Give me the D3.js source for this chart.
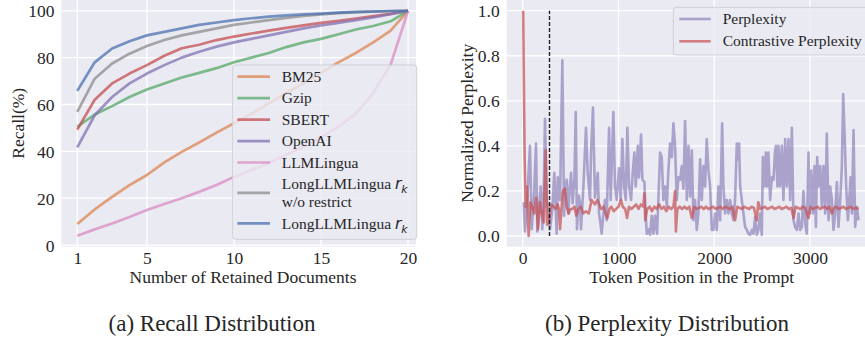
<!DOCTYPE html>
<html>
<head>
<meta charset="utf-8">
<script src="https://cdn.jsdelivr.net/npm/d3@7"></script>
<style>
  body { margin: 0; background: #fff; }
  svg { display: block; }
  text { font-family: "Liberation Serif", "Times New Roman", serif; fill: #262626; }
</style>
</head>
<body>
<script>
// ---- data: (a) recall distribution ----
const docs = [1, 2, 3, 4, 5, 6, 7, 8, 9, 10, 11, 12, 13, 14, 15, 16, 17, 18, 19, 20];
const docTicks = [1, 5, 10, 15, 20];
const recallTicks = [0, 20, 40, 60, 80, 100];

const bm25 = [9, 15.2, 20.6, 25.6, 29.9, 35.3, 39.8, 43.8, 48, 52, 56, 60.5, 65, 69, 73.5, 78, 82, 86.5, 91.5, 100];
const gzip = [50.5, 55.7, 59.3, 63.2, 66.4, 69, 71.5, 73.5, 75.5, 78, 80, 82, 84.5, 86.5, 88, 90, 92, 93.5, 95.5, 100];
const sbert = [49.3, 62, 69, 73.2, 76.8, 80.8, 84, 85.5, 87.5, 89, 90.3, 91.5, 92.7, 93.8, 94.8, 95.7, 96.7, 97.7, 98.7, 100];
const openai = [41.7, 55.4, 63.2, 69, 73.2, 76.8, 80, 82.5, 84.7, 86.5, 88, 89.5, 91, 92.5, 93.7, 94.8, 96, 97.2, 98.5, 100];
const llmlingua = [4, 6.7, 9.2, 12, 15, 17.5, 20, 22.7, 25.6, 29.1, 32, 35, 38.5, 42, 46, 50.5, 56, 65, 77, 100];
const longNoRestrict = [56.8, 71, 77.5, 81.7, 85, 87.5, 89.5, 91, 92.5, 94, 95, 96, 97, 97.8, 98.5, 99, 99.3, 99.6, 99.8, 100];
const longRk = [65.8, 78, 83.9, 87, 89.5, 91, 92.5, 94, 95, 96, 96.8, 97.5, 98, 98.5, 98.8, 99.2, 99.5, 99.7, 99.9, 100];

// ---- data: (b) perplexity distribution, [token position, value] ----
const tokenTicks = [0, 1000, 2000, 3000];
const pplTicks = [0, 0.2, 0.4, 0.6, 0.8, 1.0];
const questionEnd = 280;

const perplexity = [
  [10,0.15],[24,0.02],[50,0.18],[76,0.40],[94,0.03],[115,0.15],[139,0.41],[153,0.02],[170,0.12],[188,0.22],
  [205,0.03],[220,0.2],[233,0.52],[251,0.16],[268,0.12],[285,0.03],[310,0.12],[330,0.28],[355,0.01],[366,0.26],
  [390,0.16],[414,0.78],[432,0.09],[445,0.2],[460,0.25],[477,0.10],[490,0.2],[505,0.28],[522,0.145],[540,0.25],
  [554,0.55],[567,0.03],[585,0.18],[599,0.145],[609,0.03],[634,0.22],[661,0.48],[679,0.28],[703,0.16],[714,0.37],
  [734,0.57],[755,0.17],[784,0.28],[797,0.10],[808,0.07],[825,0.01],[843,0.10],[860,0.16],[877,0.07],[902,0.48],
  [919,0.16],[947,0.55],[964,0.22],[982,0.16],[1006,0.30],[1024,0.16],[1041,0.43],[1059,0.22],[1076,0.16],[1093,0.48],
  [1111,0.22],[1132,0.16],[1149,0.28],[1166,0.37],[1181,0.22],[1202,0.40],[1215,0.26],[1236,0.45],[1250,0.25],[1271,0.24],
  [1285,0.09],[1296,0.01],[1312,0.03],[1330,0.005],[1348,0.09],[1365,0.01],[1382,0.09],[1403,0.01],[1417,0.16],[1435,0.37],
  [1452,0.35],[1469,0.16],[1487,0.22],[1505,0.13],[1521,0.29],[1539,0.41],[1557,0.35],[1574,0.50],[1591,0.40],[1609,0.16],
  [1626,0.26],[1644,0.25],[1661,0.31],[1678,0.21],[1696,0.51],[1714,0.16],[1731,0.40],[1748,0.175],[1766,0.38],[1783,0.07],
  [1800,0.16],[1818,0.027],[1835,0.10],[1853,0.34],[1870,0.16],[1888,0.31],[1905,0.22],[1922,0.43],[1940,0.29],[1957,0.22],
  [1975,0.027],[1992,0.027],[2009,0.10],[2027,0.027],[2044,0.22],[2062,0.07],[2083,0.50],[2096,0.22],[2114,0.10],[2131,0.16],
  [2149,0.10],[2166,0.16],[2184,0.10],[2201,0.07],[2218,0.16],[2236,0.41],[2247,0.34],[2260,0.41],[2271,0.22],[2288,0.16],
  [2305,0.10],[2323,0.04],[2341,0.027],[2357,0.01],[2375,0.005],[2393,0.027],[2410,0.01],[2427,0.085],[2445,0.005],[2462,0.027],
  [2480,0.10],[2497,0.005],[2508,0.35],[2525,0.22],[2539,0.37],[2553,0.22],[2566,0.37],[2584,0.16],[2602,0.26],[2619,0.25],
  [2636,0.38],[2645,0.40],[2660,0.22],[2671,0.40],[2689,0.22],[2706,0.40],[2723,0.16],[2741,0.43],[2758,0.22],[2776,0.43],
  [2793,0.16],[2811,0.48],[2828,0.07],[2845,0.04],[2863,0.027],[2880,0.10],[2898,0.027],[2915,0.04],[2932,0.20],[2950,0.055],
  [2967,0.01],[2985,0.37],[2995,0.10],[3013,0.29],[3030,0.10],[3047,0.31],[3062,0.04],[3075,0.35],[3089,0.22],[3107,0.31],
  [3124,0.13],[3141,0.31],[3159,0.10],[3176,0.455],[3194,0.07],[3211,0.22],[3229,0.16],[3246,0.027],[3263,0.10],[3281,0.24],
  [3298,0.04],[3316,0.16],[3333,0.31],[3347,0.63],[3361,0.455],[3378,0.22],[3396,0.07],[3410,0.16],[3424,0.26],[3438,0.10],
  [3455,0.47],[3472,0.04],[3490,0.13],[3507,0.07]
];

const contrastive = [
  [5,1.0],[20,0.36],[30,0.13],[45,0.22],[62,0.0],[80,0.15],[100,0.13],[120,0.10],[140,0.17],[160,0.03],
  [180,0.15],[200,0.10],[220,0.06],[240,0.38],[255,0.05],[275,0.06],[295,0.14],[320,0.13],[345,0.12],[365,0.14],
  [378,0.12],[390,0.03],[405,0.12],[420,0.20],[440,0.21],[460,0.13],[480,0.10],[500,0.12],[520,0.12],[540,0.13],
  [560,0.09],[580,0.12],[610,0.13],[630,0.10],[660,0.11],[690,0.10],[720,0.16],[755,0.14],[780,0.16],[800,0.14],
  [820,0.12],[845,0.13],[865,0.10],[885,0.08],[905,0.12],[925,0.13],[950,0.11],[975,0.12],[1000,0.13],[1025,0.16],
  [1045,0.13],[1070,0.12],[1090,0.08],[1110,0.13],[1135,0.12],[1160,0.13],[1185,0.14],[1210,0.12],[1235,0.14],[1260,0.13],
  [1271,0.19],[1280,0.07],[1300,0.12],[1325,0.13],[1350,0.11],[1375,0.13],[1400,0.12],[1425,0.14],[1450,0.12],[1475,0.13],
  [1500,0.11],[1525,0.13],[1550,0.12],[1575,0.13],[1591,0.20],[1600,0.02],[1615,0.12],[1640,0.13],[1665,0.12],[1690,0.13],
  [1715,0.12],[1740,0.13],[1766,0.08],[1790,0.13],[1815,0.12],[1840,0.125],[1865,0.13],[1890,0.12],[1915,0.13],[1940,0.12],
  [1965,0.125],[1990,0.13],[2015,0.12],[2040,0.125],[2065,0.13],[2090,0.12],[2115,0.13],[2140,0.125],[2165,0.12],[2190,0.13],
  [2218,0.07],[2240,0.13],[2265,0.125],[2290,0.12],[2315,0.13],[2340,0.125],[2365,0.12],[2390,0.13],[2415,0.125],[2445,0.07],
  [2460,0.15],[2480,0.12],[2505,0.125],[2530,0.13],[2555,0.12],[2580,0.125],[2605,0.13],[2630,0.12],[2655,0.125],[2680,0.13],
  [2705,0.12],[2730,0.125],[2755,0.13],[2780,0.12],[2805,0.125],[2828,0.08],[2850,0.13],[2875,0.125],[2900,0.12],[2925,0.13],
  [2950,0.125],[2985,0.08],[3005,0.13],[3030,0.12],[3055,0.125],[3080,0.13],[3105,0.12],[3130,0.125],[3155,0.13],[3180,0.12],
  [3205,0.13],[3229,0.10],[3250,0.125],[3275,0.13],[3300,0.12],[3325,0.125],[3350,0.13],[3375,0.12],[3400,0.125],[3425,0.13],
  [3450,0.12],[3475,0.125],[3507,0.12]
];

const width = 865;
const height = 339;
const bg = "#eaeaf2";
const tickFont = 17.5;
const legendFont = 15.5;

const svg = d3.select("body")
  .append("svg")
  .attr("xmlns", "http://www.w3.org/2000/svg")
  .attr("width", width)
  .attr("height", height);

svg.append("rect").attr("width", width).attr("height", height).attr("fill", "white");

const defs = svg.append("defs");

// helper: grid + tick labels for one panel
function drawFrame(g, x, y, xTicks, yTicks, xFmt, yFmt, clipX0, clipX1) {
  const [y1, y0] = y.range();
  g.append("rect")
    .attr("x", clipX0).attr("y", y0)
    .attr("width", clipX1 - clipX0).attr("height", y1 - y0)
    .attr("fill", bg);

  g.selectAll("line.gx").data(xTicks).join("line")
    .attr("class", "gx")
    .attr("x1", d => x(d)).attr("x2", d => x(d))
    .attr("y1", y0).attr("y2", y1)
    .attr("stroke", "white").attr("stroke-width", 1.3);
  g.selectAll("line.gy").data(yTicks).join("line")
    .attr("class", "gy")
    .attr("x1", clipX0).attr("x2", clipX1)
    .attr("y1", d => y(d)).attr("y2", d => y(d))
    .attr("stroke", "white").attr("stroke-width", 1.3);

  // axes through d3, then strip the domain / ticks to get the seaborn look
  const xa = g.append("g")
    .attr("transform", "translate(0," + y1 + ")")
    .call(d3.axisBottom(x).tickValues(xTicks).tickFormat(xFmt).tickSize(0));
  xa.select(".domain").remove();
  xa.selectAll("text")
    .attr("y", 264 - y1).attr("dy", null)
    .attr("font-size", tickFont)
    .attr("font-family", "Liberation Serif")
    .attr("fill", "#262626");

  const ya = g.append("g")
    .attr("transform", "translate(" + clipX0 + ",0)")
    .call(d3.axisLeft(y).tickValues(yTicks).tickFormat(yFmt).tickSize(0).tickPadding(7));
  ya.select(".domain").remove();
  ya.selectAll("text")
    .attr("dy", "0.34em")
    .attr("font-size", tickFont)
    .attr("font-family", "Liberation Serif")
    .attr("fill", "#262626");
}

function rkLabel(t, prefix) {
  t.append("tspan").text(prefix);
  t.append("tspan").attr("font-family", "DejaVu Sans").attr("font-style", "italic").text("r");
  t.append("tspan").attr("font-family", "DejaVu Sans").attr("font-style", "italic")
    .attr("font-size", legendFont * 0.7).attr("dy", 4).text("k");
}

// ================= (a) Recall Distribution =================
const xA = d3.scaleLinear().domain([0.05, 20.95]).range([60.74, 424.6]);
const yA = d3.scaleLinear().domain([-0.7, 104.6]).range([246.7, 0]);
const leftClip = [61.5, 416];

defs.append("clipPath").attr("id", "clipA")
  .append("rect").attr("x", leftClip[0]).attr("y", 0)
  .attr("width", leftClip[1] - leftClip[0]).attr("height", 246.7);

const gA = svg.append("g");
drawFrame(gA, xA, yA, docTicks, recallTicks, d3.format("d"), d3.format("d"), leftClip[0], leftClip[1]);

const seriesA = [
  { name: "BM25", values: bm25, color: "#dd8452" },
  { name: "Gzip", values: gzip, color: "#55a868" },
  { name: "SBERT", values: sbert, color: "#c44e52" },
  { name: "OpenAI", values: openai, color: "#8172b3" },
  { name: "LLMLingua", values: llmlingua, color: "#da8bc3" },
  { name: "LongLLMLingua ", rk: true, extra: "w/o restrict", values: longNoRestrict, color: "#8c8c8c" },
  { name: "LongLLMLingua ", rk: true, values: longRk, color: "#4c72b0" }
];

const lineA = d3.line().x((d, i) => xA(docs[i])).y(d => yA(d));
gA.append("g").attr("clip-path", "url(#clipA)")
  .selectAll("path").data(seriesA).join("path")
  .attr("fill", "none")
  .attr("stroke", d => d.color)
  .attr("stroke-opacity", 0.75)
  .attr("stroke-width", 2.7)
  .attr("stroke-linejoin", "round")
  .attr("d", d => lineA(d.values));

// legend (a)
const legA = gA.append("g");
legA.append("rect")
  .attr("x", 232.7).attr("y", 65).attr("width", 184).attr("height", 174.3)
  .attr("rx", 3)
  .attr("fill", bg).attr("fill-opacity", 0.8)
  .attr("stroke", "#cfcfd6").attr("stroke-width", 1);

const rowStep = 21.45;
let rowY = 76.7;
seriesA.forEach(s => {
  const cy = s.extra ? rowY + 9 : rowY;
  legA.append("line")
    .attr("x1", 237.3).attr("x2", 270).attr("y1", cy).attr("y2", cy)
    .attr("stroke", s.color).attr("stroke-opacity", 0.75).attr("stroke-width", 2.7);
  const t = legA.append("text")
    .attr("x", 281.7).attr("y", s.extra ? cy - 9 : cy)
    .attr("dy", "0.33em")
    .attr("font-size", legendFont);
  if (s.rk) rkLabel(t, s.name); else t.text(s.name);
  if (s.extra) {
    legA.append("text")
      .attr("x", 281.7).attr("y", cy + 9).attr("dy", "0.33em")
      .attr("font-size", legendFont).text(s.extra);
  }
  rowY += s.extra ? rowStep + 18 : rowStep;
});

gA.append("text")
  .attr("x", 243).attr("y", 283)
  .attr("text-anchor", "middle").attr("font-size", tickFont)
  .text("Number of Retained Documents");
gA.append("text")
  .attr("transform", "translate(23.5,123.3) rotate(-90)")
  .attr("text-anchor", "middle").attr("font-size", tickFont)
  .text("Recall(%)");

// ================= (b) Perplexity Distribution =================
const xB = d3.scaleLinear().domain([-167, 3700]).range([506.7, 877]);
const yB = d3.scaleLinear().domain([-0.0475, 1.0475]).range([246.7, 0]);
const rightClip = [506.7, 865];

defs.append("clipPath").attr("id", "clipB")
  .append("rect").attr("x", rightClip[0]).attr("y", 0)
  .attr("width", rightClip[1] - rightClip[0]).attr("height", 246.7);

const gB = svg.append("g");
drawFrame(gB, xB, yB, tokenTicks, pplTicks, d3.format("d"), d3.format(".1f"), rightClip[0], rightClip[1]);

const lineB = d3.line().x(d => xB(d[0])).y(d => yB(d[1]));
const plotB = gB.append("g").attr("clip-path", "url(#clipB)");
plotB.append("path")
  .attr("d", lineB(perplexity))
  .attr("fill", "none").attr("stroke", "#8172b3").attr("stroke-opacity", 0.6)
  .attr("stroke-width", 2.6).attr("stroke-linejoin", "round");
plotB.append("path")
  .attr("d", lineB(contrastive))
  .attr("fill", "none").attr("stroke", "#c44e52").attr("stroke-opacity", 0.7)
  .attr("stroke-width", 2.6).attr("stroke-linejoin", "round");
plotB.append("line")
  .attr("x1", xB(questionEnd)).attr("x2", xB(questionEnd))
  .attr("y1", yB(0)).attr("y2", yB(1))
  .attr("stroke", "#222").attr("stroke-width", 1.4)
  .attr("stroke-dasharray", "4,2");

const legB = gB.append("g");
legB.append("rect")
  .attr("x", 673.3).attr("y", 7.3).attr("width", 200).attr("height", 47.7)
  .attr("rx", 3)
  .attr("fill", bg).attr("fill-opacity", 0.8)
  .attr("stroke", "#cfcfd6").attr("stroke-width", 1);
[["Perplexity", "#8172b3", 0.6], ["Contrastive Perplexity", "#c44e52", 0.7]].forEach((e, i) => {
  const cy = 19 + i * 22.3;
  legB.append("line")
    .attr("x1", 679.3).attr("x2", 710.7).attr("y1", cy).attr("y2", cy)
    .attr("stroke", e[1]).attr("stroke-opacity", e[2]).attr("stroke-width", 2.6);
  legB.append("text")
    .attr("x", 722.7).attr("y", cy).attr("dy", "0.33em")
    .attr("font-size", legendFont).text(e[0]);
});

gB.append("text")
  .attr("x", 691.8).attr("y", 283)
  .attr("text-anchor", "middle").attr("font-size", tickFont)
  .text("Token Position in the Prompt");
gB.append("text")
  .attr("transform", "translate(473,123.3) rotate(-90)")
  .attr("text-anchor", "middle").attr("font-size", tickFont)
  .text("Normalized Perplexity");

// captions
svg.append("text").attr("x", 212).attr("y", 331)
  .attr("text-anchor", "middle").attr("font-size", 23)
  .text("(a) Recall Distribution");
svg.append("text").attr("x", 667).attr("y", 331)
  .attr("text-anchor", "middle").attr("font-size", 23)
  .text("(b) Perplexity Distribution");
</script>
</body>
</html>
